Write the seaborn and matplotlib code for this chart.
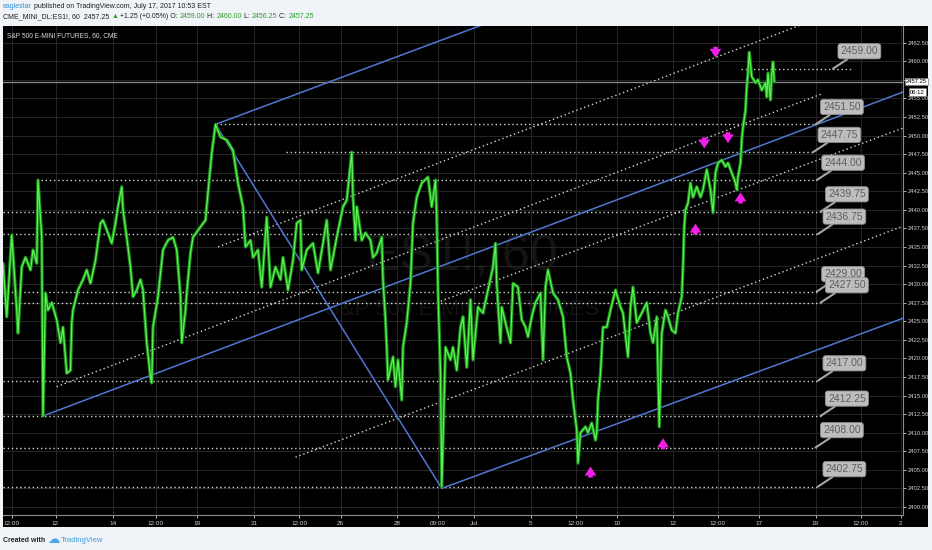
import matplotlib
matplotlib.use('Agg')
import matplotlib.pyplot as plt
import matplotlib.transforms as mtransforms
from matplotlib.patches import Rectangle
import pandas as pd
import seaborn as sns

# hourly ES1! path (bar index, price)
bars = [0, 3, 7, 11, 12, 15, 18, 22, 24, 27, 28, 31, 32, 34, 36, 39, 43, 46, 48, 51,
        54, 55, 56, 60, 64, 67, 70, 74, 78, 80, 83, 87, 90, 92, 95, 96, 99, 102, 104, 107,
        110, 112, 115, 118, 119, 120, 124, 128, 132, 136, 139, 142, 143, 146, 147, 150, 152, 158, 162, 164,
        167, 170, 174, 179, 184, 188, 192, 194, 198, 200, 204, 207, 211, 214, 218, 222, 224, 228, 232, 235,
        238, 239, 243, 248, 252, 256, 259, 262, 267, 272, 275, 279, 280, 282, 283, 287, 290, 294, 296, 299,
        303, 304, 306, 307, 308, 312, 314, 316, 319, 320, 323, 326, 328, 331, 335, 340, 343, 346, 347, 348,
        350, 351, 354, 358, 360, 363, 366, 368, 371, 374, 376, 380, 384, 388, 392, 394, 395, 398, 399, 402,
        406, 408, 412, 415, 418, 420, 423, 426, 430, 432, 434, 436, 440, 444, 448, 451, 454, 456, 459, 460,
        462, 466, 468, 471, 474, 475, 476, 478, 480, 483, 486, 490, 494, 496, 500, 502, 504, 507, 511, 515,
        518, 520, 523, 525, 527, 530, 532, 535, 538, 540, 543, 544, 545, 546, 548, 550, 552, 555, 558, 560,
        563, 566, 568, 570, 572, 575, 578, 580, 583, 586, 587, 588, 590, 591, 592, 594, 595, 596, 597, 599,
        602, 604, 607, 610, 611, 612, 614, 615, 616, 617]
prices = [2432.8, 2425.6, 2436.6, 2426.5, 2423.4, 2432.3, 2433.6, 2431.9, 2434.6, 2432.8, 2444.0, 2436.3, 2412.25, 2428.8, 2426.5, 2427.5, 2425.2, 2422.1, 2424.2, 2418.0,
          2418.4, 2424.8, 2426.5, 2429.2, 2430.6, 2431.9, 2430.1, 2433.2, 2438.2, 2438.6, 2437.3, 2435.5, 2438.2, 2440.4, 2443.1, 2440.0, 2436.3, 2432.3, 2428.3, 2429.2,
          2430.6, 2429.2, 2422.1, 2417.5, 2416.7, 2424.2, 2428.3, 2434.6, 2435.9, 2436.3, 2434.6, 2428.3, 2422.1, 2426.5, 2428.8, 2434.2, 2436.3, 2437.7, 2438.6, 2442.3,
          2447.6, 2451.5, 2449.8, 2449.4, 2448.0, 2443.6, 2440.4, 2435.0, 2435.9, 2433.6, 2434.6, 2429.6, 2439.0, 2429.6, 2432.3, 2430.6, 2433.6, 2429.2, 2433.2, 2438.2,
          2438.6, 2431.9, 2434.6, 2435.5, 2431.5, 2435.5, 2438.6, 2431.9, 2436.3, 2440.4, 2441.3, 2447.75, 2441.7, 2435.9, 2440.4, 2435.9, 2436.9, 2435.9, 2433.6, 2434.2,
          2436.3, 2430.6, 2425.2, 2421.5, 2417.1, 2420.2, 2416.2, 2419.8, 2414.4, 2421.5, 2424.8, 2430.1, 2438.2, 2441.7, 2443.6, 2444.4, 2440.4, 2444.0, 2439.0, 2429.2,
          2418.0, 2402.75, 2421.5, 2419.8, 2421.5, 2418.4, 2424.2, 2425.6, 2418.8, 2427.9, 2419.8, 2426.9, 2426.1, 2429.2, 2432.3, 2435.5, 2430.1, 2422.1, 2426.9, 2424.8,
          2422.1, 2430.1, 2429.6, 2425.2, 2424.2, 2422.9, 2425.6, 2427.5, 2428.8, 2419.8, 2429.6, 2431.9, 2428.8, 2427.9, 2425.6, 2420.2, 2418.0, 2414.4, 2410.4, 2405.9,
          2410.0, 2410.8, 2410.0, 2411.3, 2409.0, 2410.0, 2414.4, 2418.0, 2424.2, 2424.2, 2426.5, 2429.2, 2426.9, 2426.1, 2420.2, 2426.9, 2429.6, 2424.8, 2426.1, 2427.5,
          2423.4, 2422.1, 2425.6, 2410.8, 2423.4, 2426.5, 2425.6, 2423.8, 2423.4, 2426.1, 2428.3, 2432.3, 2437.7, 2440.0, 2440.9, 2443.6, 2441.7, 2443.1, 2441.7, 2442.7,
          2445.4, 2442.7, 2439.6, 2445.0, 2446.3, 2446.7, 2445.8, 2446.3, 2445.0, 2443.6, 2442.7, 2444.4, 2446.3, 2449.4, 2451.1, 2453.4, 2456.5, 2458.4, 2461.2, 2457.9,
          2457.1, 2457.5, 2456.1, 2457.1, 2455.2, 2458.4, 2454.8, 2458.4, 2459.9, 2457.25]
last_price = 2457.25

# horizontal support / resistance levels
levels = [2459.00, 2451.50, 2447.75, 2444.00, 2439.75, 2436.75, 2429.00, 2427.50, 2417.00, 2412.25, 2408.00, 2402.75]
level_start = [590, 170, 226, 30, 0, 0, 0, 0, 0, 0, 0, 0]
level_end = [680, 648, 648, 650, 654, 652, 651, 654, 652, 654, 650, 652]
level_tag = [664, 650, 648, 651, 654, 652, 651, 654, 652, 654, 650, 652]

# pitchfork (blue) segments: start bar, start price, end bar, end price
fork_x0 = [32, 170, 351, 170]
fork_p0 = [2412.25, 2451.50, 2402.50, 2451.50]
fork_x1 = [720, 398, 720, 351]
fork_p1 = [2455.85, 2465.80, 2425.40, 2402.50]

# parallel dotted channel lines
chan_x0 = [172, 43, 347, 234]
chan_p0 = [2435.0, 2416.2, 2427.5, 2406.7]
chan_x1 = [662, 655, 720, 720]
chan_p1 = [2466.4, 2455.6, 2451.0, 2437.8]

# magenta signal arrows
down_bar = [570, 561, 580]
down_price = [2461.2, 2449.0, 2449.7]
up_bar = [590, 554, 470, 528]
up_price = [2441.6, 2437.4, 2404.7, 2408.5]

xtick_bars = [7, 42, 88, 122, 155, 201, 237, 270, 315, 348, 377, 422, 458, 491, 536, 572, 605, 650, 686, 718]
xtick_labels = ['12:00', '12', '14', '12:00', '19', '21', '12:00', '26', '28', '09:00', 'Jul', '5',
                '12:00', '10', '12', '12:00', '17', '19', '12:00', '2']
ytick_prices = [2400 + 2.5 * i for i in range(26)]

sns.set_theme(style='dark')
plt.rcParams['font.family'] = ['Liberation Sans', 'DejaVu Sans']

W, H = 932, 550
fig = plt.figure(figsize=(W / 100, H / 100), dpi=100, facecolor='#f0f3f7')
fig.patches.append(Rectangle((3 / W, 23 / H), 925 / W, 501 / H, transform=fig.transFigure,
                             facecolor='black', edgecolor='none', zorder=-5))
ax = fig.add_axes([3 / W, 35 / H, 900 / W, 489 / H])
ax.set_facecolor('black')

ax.set_xlim(0, 720)
ax.set_ylim(2398.92, 2464.74)
ax.set_xticks(xtick_bars)
ax.set_xticklabels(xtick_labels)
ax.set_yticks(ytick_prices)
# the 2457.50 label sits under the last-price tag
ax.set_yticklabels(['' if p == 2457.5 else f'{p:.2f}' for p in ytick_prices])
ax.yaxis.tick_right()
ax.tick_params(axis='both', colors='#cfcfcf', labelsize=4.6, length=2.5, width=0.6, pad=1.5,
               bottom=True, right=True, left=False)
ax.tick_params(axis='y', labelsize=4.2, pad=1)
ax.grid(True, color='#262626', lw=0.7)
for side in ['top', 'left']:
    ax.spines[side].set_visible(False)
for side in ['right', 'bottom']:
    ax.spines[side].set_color('#8a8a8a')
    ax.spines[side].set_linewidth(0.8)

# faint watermark
ax.text(0.51, 0.526, 'ES1!, 60', transform=ax.transAxes, fontsize=36, color='#141414',
        ha='center', va='center', zorder=0)
ax.text(0.51, 0.42, 'S&P 500 E-MINI FUTURES', transform=ax.transAxes, fontsize=16, color='#121212',
        ha='center', va='center', zorder=0)

ax.text(0.004, 0.988, 'S&P 500 E-MINI FUTURES, 60, CME', transform=ax.transAxes, fontsize=4.8,
        color='#dcdcdc', va='top', ha='left')

# levels with callouts
for lvl, x0, x1, xt in zip(levels, level_start, level_end, level_tag):
    ax.plot([x0, x1], [lvl, lvl], color='#d4d4d4', lw=1.0, ls=(0, (1, 2)), zorder=2)
    ax.annotate(f'{lvl:.2f}', xy=(xt, lvl), xytext=(19, 12.5), textcoords='offset points',
                ha='center', va='center', fontsize=7.5, color='#5e5e5e', zorder=6,
                bbox=dict(boxstyle='round,pad=0.25', fc='#bdbdbd', ec='#8f8f8f', lw=0.6),
                arrowprops=dict(arrowstyle='-', color='#a6a6a6', lw=1.5, shrinkA=0, shrinkB=0))

for x0, p0, x1, p1 in zip(chan_x0, chan_p0, chan_x1, chan_p1):
    ax.plot([x0, x1], [p0, p1], color='#d4d4d4', lw=1.0, ls=(0, (1, 2)), zorder=2)

for x0, p0, x1, p1 in zip(fork_x0, fork_p0, fork_x1, fork_p1):
    ax.plot([x0, x1], [p0, p1], color='#4f78d0', lw=1.1, zorder=3)

ax.axhline(last_price, color='#8c8c8c', lw=0.9, zorder=2)

df = pd.DataFrame({'bar': bars, 'price': prices})
sns.lineplot(data=df, x='bar', y='price', ax=ax, color='#1a8c1a', lw=2.4, sort=False,
             estimator=None, zorder=4)
sns.lineplot(data=df, x='bar', y='price', ax=ax, color='#5cf552', lw=0.9, sort=False,
             estimator=None, zorder=5)
ax.set_xlabel('')
ax.set_ylabel('')

arrow_style = 'simple,head_width=1.3,head_length=1.0,tail_width=0.5'
for b, p in zip(down_bar, down_price):
    ax.annotate('', xy=(b, p - 0.75), xytext=(b, p + 0.75),
                arrowprops=dict(arrowstyle=arrow_style, color='#f01ee6', lw=0, mutation_scale=6.5,
                                shrinkA=0, shrinkB=0), zorder=7)
for b, p in zip(up_bar, up_price):
    ax.annotate('', xy=(b, p + 0.75), xytext=(b, p - 0.75),
                arrowprops=dict(arrowstyle=arrow_style, color='#f01ee6', lw=0, mutation_scale=6.5,
                                shrinkA=0, shrinkB=0), zorder=7)

# last price / countdown tags on the price scale
ax.annotate(f'{last_price:.2f}', xy=(1.0, last_price), xycoords=('axes fraction', 'data'),
            xytext=(2, 0), textcoords='offset points', ha='left', va='center', fontsize=4.2,
            color='black', bbox=dict(boxstyle='square,pad=0.2', fc='white', ec='#777777', lw=0.5),
            annotation_clip=False, zorder=8)
ax.annotate('06:12', xy=(1.0, last_price), xycoords=('axes fraction', 'data'),
            xytext=(5, -7.5), textcoords='offset points', ha='left', va='center', fontsize=4.2,
            color='black', bbox=dict(boxstyle='square,pad=0.2', fc='white', ec='#777777', lw=0.5),
            annotation_clip=False, zorder=8)


def draw_parts(x, y_top, parts, size, weight='normal'):
    renderer = fig.canvas.get_renderer()
    for txt, col in parts:
        t = fig.text(x, H - y_top, txt, color=col, fontsize=size, ha='left', va='center',
                     weight=weight, transform=mtransforms.IdentityTransform())
        x += t.get_window_extent(renderer).width


dark = '#1e1e1e'
green = '#2a9d2a'
draw_parts(3, 6, [('eaglestar', '#2f8fd6'),
                  (' published on TradingView.com, July 17, 2017 10:53 EST', dark)], 5)
draw_parts(3, 17, [('CME_MINI_DL:ES1!, 60  2457.25 ', dark), ('\u25b2', green),
                   (' +1.25 (+0.05%) O: ', dark), ('2459.00', green), (' H: ', dark),
                   ('2460.00', green), (' L: ', dark), ('2456.25', green), (' C: ', dark),
                   ('2457.25', green)], 5)
draw_parts(3, 541, [('Created with', '#222222')], 5, weight='bold')
draw_parts(47, 540, [('\u2601', '#4aa8e2')], 9)
draw_parts(61, 541, [('TradingView', '#3b9ad9')], 5.5)

fig.savefig('out.png', dpi=100, facecolor=fig.get_facecolor())
